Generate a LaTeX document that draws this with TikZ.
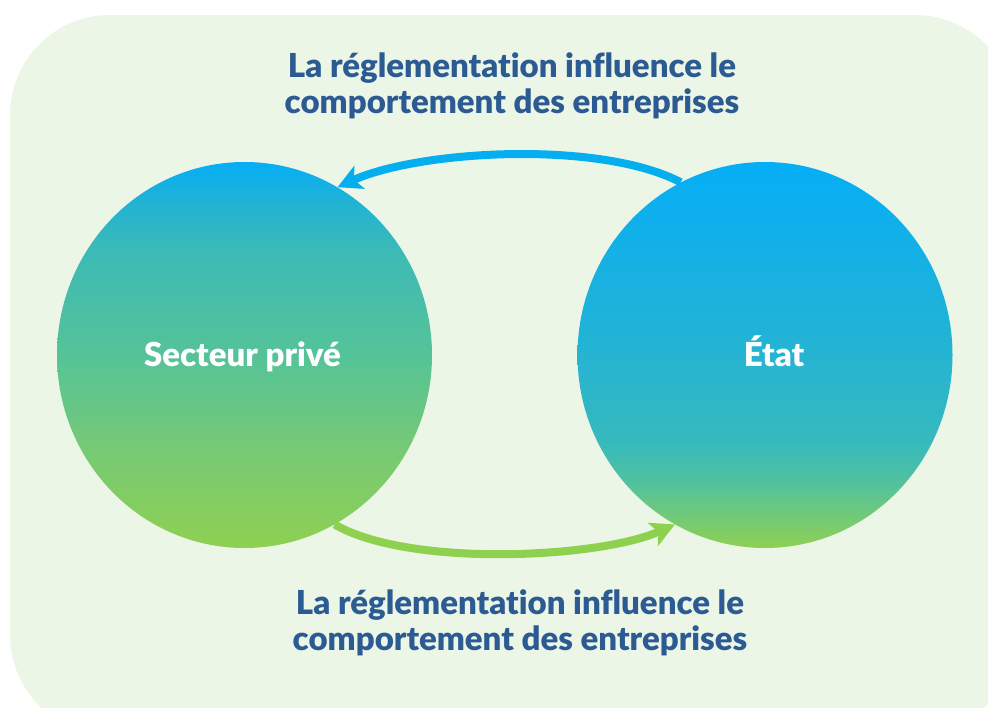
\documentclass[tikz,border=0pt]{standalone}
\usepackage{fontspec}
\setmainfont{Lato}[BoldFont={Lato Black}, Ligatures=CommonOff]
\usetikzlibrary{shapes.geometric, arrows.meta}

\definecolor{bgfill}{HTML}{EBF6E7}
\definecolor{headblue}{HTML}{2C5A92}
\definecolor{arrowblue}{HTML}{05AEEF}
\definecolor{arrowgreen}{HTML}{8DD14F}

\definecolor{gA}{HTML}{8ED052}
\definecolor{gB}{HTML}{77CA74}
\definecolor{gC}{HTML}{55C398}
\definecolor{gD}{HTML}{3CBAB6}
\definecolor{gE}{HTML}{20B2D5}
\definecolor{gF}{HTML}{05AEF6}
\definecolor{bB}{HTML}{6CC87F}
\definecolor{bC}{HTML}{4EC1A0}
\definecolor{bD}{HTML}{36B9BE}
\definecolor{bE}{HTML}{25B4D2}
\definecolor{bF}{HTML}{14B0E6}

% green-to-blue fill of the private-sector disc
\pgfdeclareverticalshading{privegrad}{100bp}{
  color(0bp)=(gA); color(25bp)=(gA); color(37.5bp)=(gB);
  color(50bp)=(gC); color(63.5bp)=(gD); color(70bp)=(gE);
  color(75bp)=(gF); color(100bp)=(gF)}
% mostly blue fill of the state disc
\pgfdeclareverticalshading{etatgrad}{100bp}{
  color(0bp)=(gA); color(25bp)=(gA); color(30bp)=(bB);
  color(34bp)=(bC); color(39bp)=(bD); color(50bp)=(bE);
  color(63.5bp)=(bF); color(75bp)=(gF); color(100bp)=(gF)}

\tikzset{
  disc/.style={ellipse, minimum width=375pt, minimum height=386pt,
    inner sep=0pt, draw=none},
  disclabel/.style={anchor=base, text=white, inner sep=0pt,
    font=\fontsize{33}{36}\selectfont\bfseries},
  headline/.style={anchor=base, text=headblue, inner sep=0pt,
    font=\fontsize{33}{36}\selectfont\bfseries},
  flowarrow/.style={line width=8pt,
    -{Stealth[length=24pt, width=25pt, inset=6pt]}},
}

\begin{document}
\begin{tikzpicture}[x=1pt, y=-1pt]
  \useasboundingbox (0,0) rectangle (988,707);
  \clip (0,0) rectangle (988,707);

  % pale panel behind everything
  \fill[bgfill, rounded corners=100pt] (10,15) rectangle (1015,735);

  % the two actors
  \node[disc, shade, shading=privegrad] (sp) at (244.5,355) {};
  \node[disc, shade, shading=etatgrad] (etat) at (765,355) {};
  \node[disclabel] (splabel) at (242.5,366) {Secteur privé};
  \node[disclabel] (etatlabel) at (774,366) {État};

  % influence loops
  \draw[flowarrow, arrowblue] (etat.116) .. controls (600,140) and (420,150) .. (sp.61);
  \draw[flowarrow, arrowgreen] (sp.-62) .. controls (410,568) and (600,558) .. (etat.-118);

  % captions
  \node[headline] (topa) at (512,77) {La réglementation influence le};
  \node[headline] (topb) at (512,113) {comportement des entreprises};
  \node[headline] (bota) at (520,614) {La réglementation influence le};
  \node[headline] (botb) at (520,650) {comportement des entreprises};
\end{tikzpicture}
\end{document}
